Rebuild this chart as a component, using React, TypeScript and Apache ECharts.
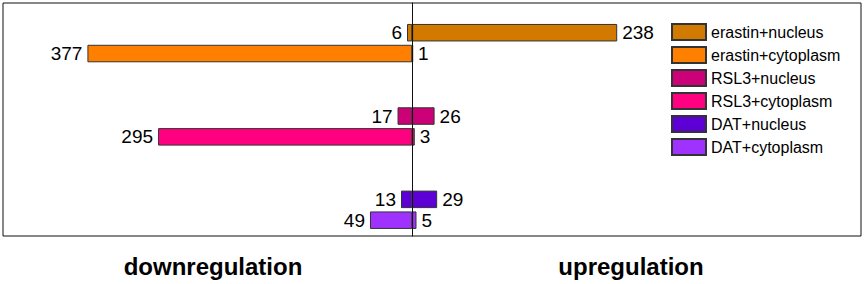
import React, { useEffect, useRef } from "react";
import * as echarts from "echarts";

const categories = [
  "erastin+nucleus",
  "erastin+cytoplasm",
  "RSL3+nucleus",
  "RSL3+cytoplasm",
  "DAT+nucleus",
  "DAT+cytoplasm",
];
const downregulated = [6, 377, 17, 295, 13, 49];
const upregulated = [238, 1, 26, 3, 29, 5];
const colors = ["#D27A00", "#FF8000", "#CC0077", "#FF0080", "#5C00D6", "#A032FF"];
const rowSlots = [
  "erastin+nucleus",
  "erastin+cytoplasm",
  "gap-a",
  "gap-b",
  "RSL3+nucleus",
  "RSL3+cytoplasm",
  "gap-c",
  "gap-d",
  "DAT+nucleus",
  "DAT+cytoplasm",
];
const sideTitles = ["downregulation", "upregulation"];

const FONT = "Arial, 'Liberation Sans', sans-serif";

export default function App() {
  const ref = useRef<HTMLDivElement>(null);
  useEffect(() => {
    if (!ref.current) return;
    const chart = echarts.init(ref.current, null, { renderer: "svg" });
    const series = categories.map((name, i) => ({
      name,
      type: "bar",
      xAxisIndex: 1,
      yAxisIndex: 1,
      barWidth: 17.5,
      barGap: "-100%",
      z: 2,
      itemStyle: { color: colors[i], borderColor: "#333", borderWidth: 1 },
      label: {
        show: true,
        distance: 5,
        fontSize: 19,
        color: "#000",
        fontFamily: FONT,
        formatter: (p: any) => String(Math.abs(p.value[0])),
      },
      data: [
        { value: [-downregulated[i], name], label: { position: "left" } },
        { value: [upregulated[i], name], label: { position: "right" } },
      ],
    }));
    chart.setOption({
      animation: false,
      textStyle: { fontFamily: FONT },
      grid: [
        {
          left: 3,
          top: 3,
          width: 858,
          height: 233,
          show: true,
          borderColor: "#111",
          borderWidth: 1,
          backgroundColor: "transparent",
        },
        { left: 3, top: 22.3, width: 858, height: 208.3 },
      ],
      xAxis: [
        { type: "value", gridIndex: 0, min: -475, max: 521, show: false },
        { type: "value", gridIndex: 1, min: -475, max: 521, show: false },
      ],
      yAxis: [
        {
          type: "value",
          gridIndex: 0,
          min: 0,
          max: 1,
          z: 10,
          axisLine: { show: true, onZero: true, lineStyle: { color: "#111", width: 1 } },
          axisTick: { show: false },
          axisLabel: { show: false },
          splitLine: { show: false },
        },
        {
          type: "category",
          gridIndex: 1,
          inverse: true,
          data: rowSlots,
          show: false,
        },
      ],
      legend: {
        orient: "vertical",
        left: 671,
        top: 23,
        padding: 0,
        itemWidth: 34,
        itemHeight: 16,
        itemGap: 5,
        icon: "rect",
        data: categories,
        textStyle: { fontSize: 16, color: "#000", fontFamily: FONT },
      },
      graphic: [
        {
          type: "text",
          x: 213,
          y: 266,
          style: {
            text: sideTitles[0],
            textAlign: "center",
            textVerticalAlign: "middle",
            fontSize: 24,
            fontWeight: "bold",
            fontFamily: FONT,
            fill: "#000",
          },
        },
        {
          type: "text",
          x: 631,
          y: 266,
          style: {
            text: sideTitles[1],
            textAlign: "center",
            textVerticalAlign: "middle",
            fontSize: 24,
            fontWeight: "bold",
            fontFamily: FONT,
            fill: "#000",
          },
        },
      ],
      series,
    });
    return () => chart.dispose();
  }, []);
  return (
    <div
      ref={ref}
      style={{ position: "fixed", left: 0, top: 0, width: 865, height: 284, background: "#fff" }}
    />
  );
}
